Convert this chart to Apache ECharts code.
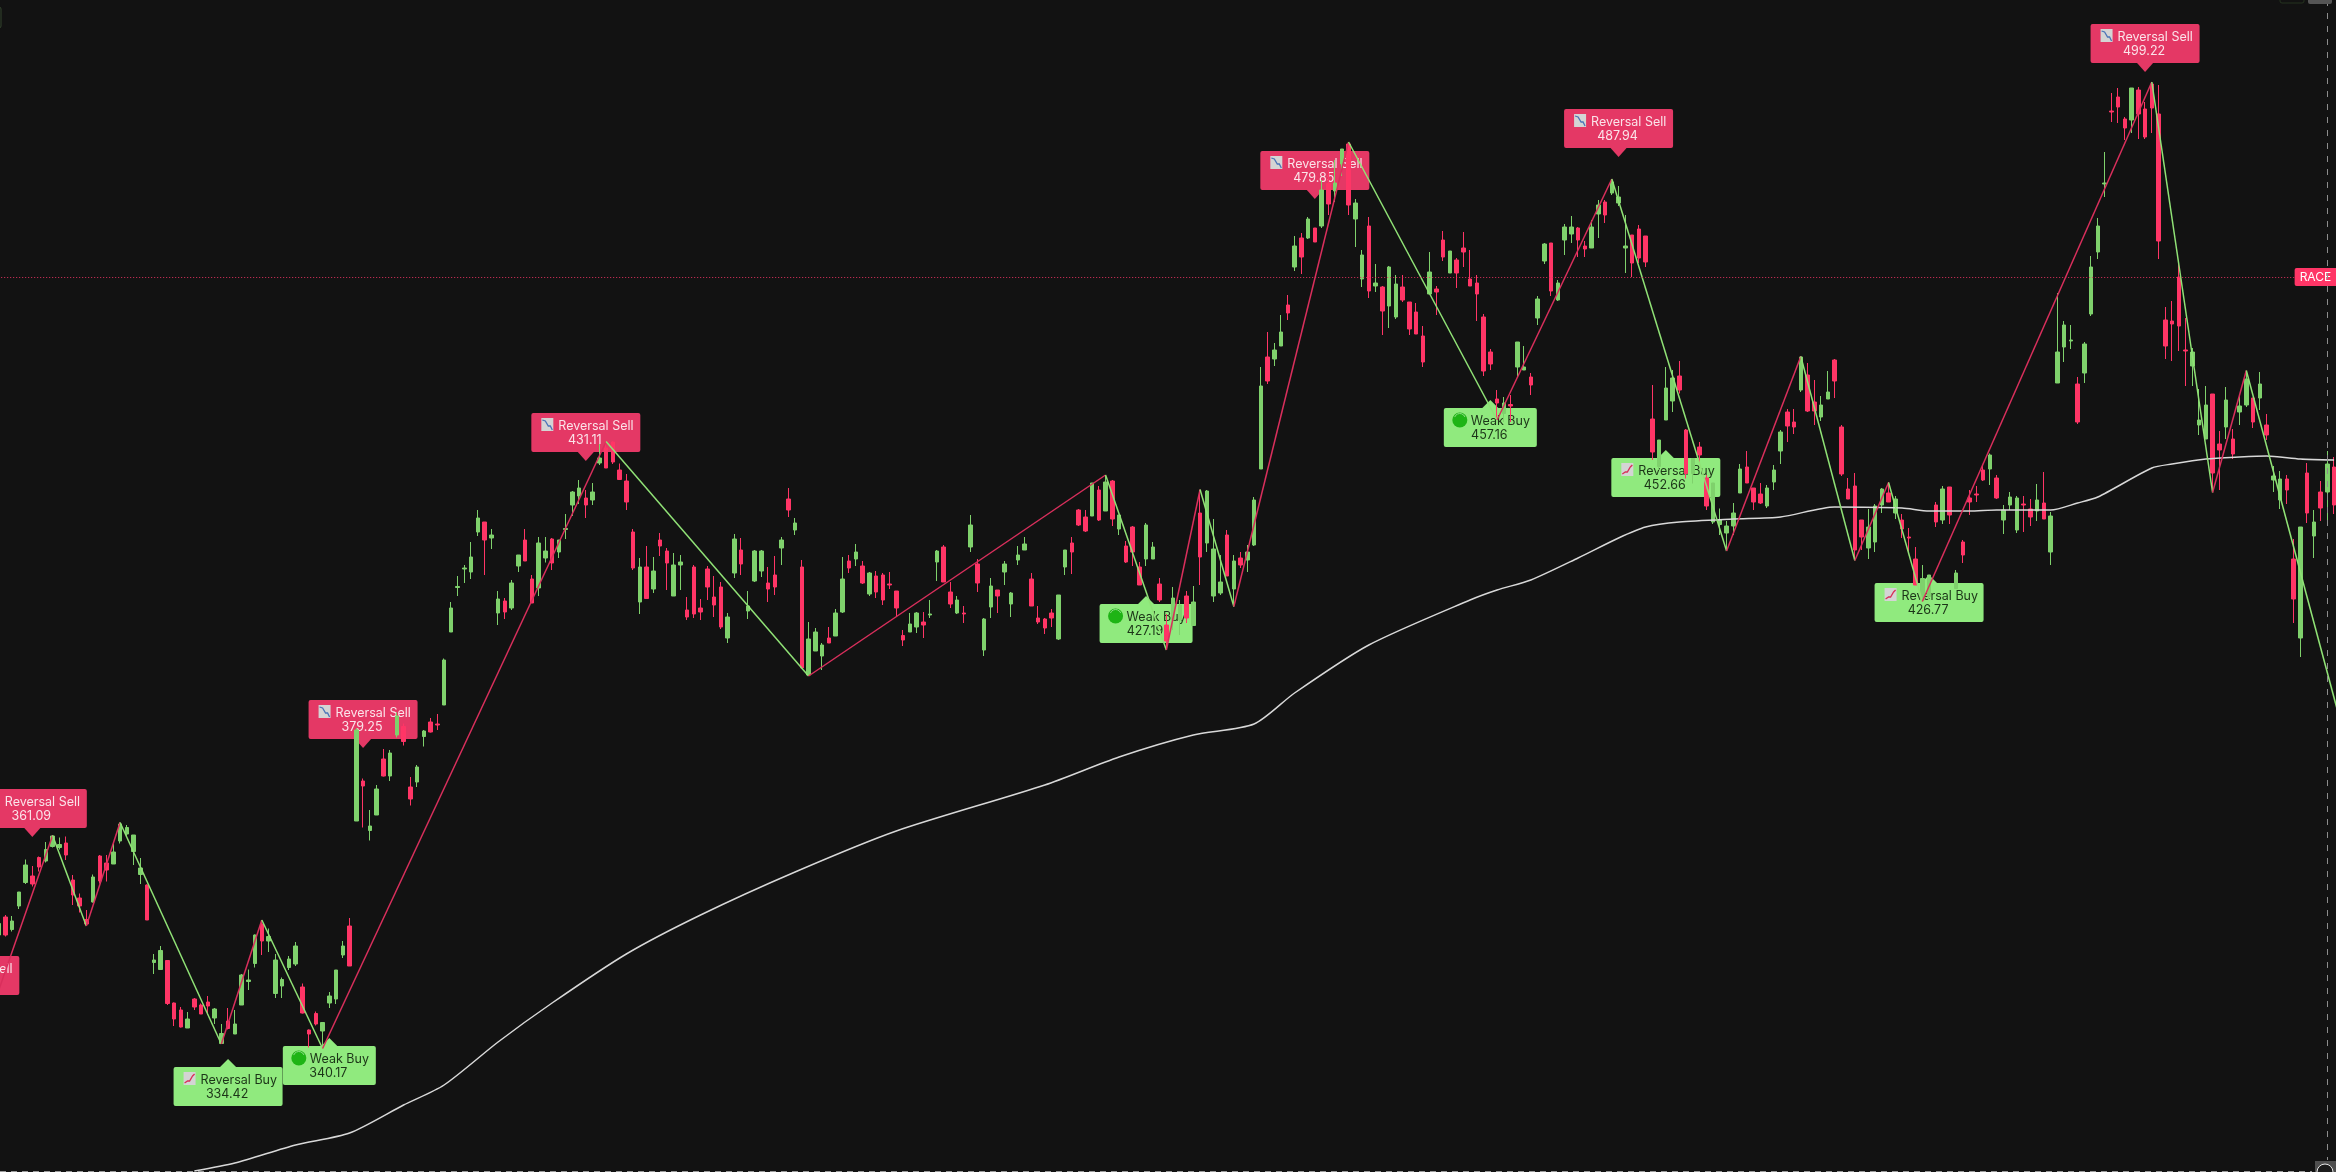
<!DOCTYPE html>
<html>
<head>
<meta charset="utf-8">
<title>RACE</title>
<script src="https://cdn.jsdelivr.net/npm/echarts@6/dist/echarts.min.js"></script>
<style>
  html, body { margin: 0; padding: 0; background: #121212; }
  #chart { width: 2336px; height: 1172px; }
</style>
</head>
<body>
<div id="chart"></div>
<script>
// open, close, low, high
var candles = [
[333,335.3,331.7,335.7],[336.6,333,332.7,337],[334.1,335.8,333.7,336.8],[338.8,341.6,338.2,341.6],[343.5,347,343.2,348.1],
[344.8,343.2,342.7,346.8],[348.5,346.6,345.7,348.7],[347.8,350.1,347.5,351.6],[350.7,352.8,350.5,353],[350.5,351.1,350.1,352.5],
[351.4,349,348,352.7],[344,341,339,345],[340.4,338.8,337.5,341.3],[336.1,335.2,334.8,338],[339.6,344.6,339.5,345.1],
[348.8,343.8,343.3,349],[347.4,346,343.7,349],[347.2,349.6,347.2,351.2],[351.8,355.2,351.3,355.5],[353.2,354.5,352.7,355],
[349.7,353,347,353],[345.1,346.4,343.2,348.4],[343,336,336,343.1],[327.5,328,325.2,329.2],[326.1,329.9,326,330.8],
[327.9,319.3,319,328],[319.4,316.2,314.8,319.5],[318,314.6,314.5,318.6],[314.4,316.2,314.4,317.6],[320.2,318.6,318,320.4],
[319,317.2,317.2,319.3],[319.6,318.8,317,320.8],[316.4,318.2,315.2,318.4],[311.3,313.3,311.2,315.2],[315.8,314.3,314.1,318.4],
[313.2,315.2,313.2,318],[319,325,319,325.2],[323.7,324,322,326.1],[327.3,333,326.5,333.1],[335.2,331.8,329,336],
[331.8,332.7,329.6,334.3],[321.3,328,320.4,329.2],[322.8,324.1,320.4,324.5],[326.5,328.2,326,328.8],[327.2,330.8,326.8,331.6],
[322.6,317.4,317.3,323.3],[314,313.2,310.5,314.1],[317.3,315.2,314.9,317.7],[313.8,315.5,311,315.5],[319.4,320.8,318.4,321.6],
[320.2,326,319.2,326],[329,330.8,328.4,331.8],[334.8,326.8,326.8,336.4],[355.8,374,355.8,374.4],[363.8,362.8,354.5,364.3],
[353.9,354.8,351.9,358],[357,362.2,357,363],[368.2,364.8,364.7,370.2],[364.8,369.4,363.8,370],[373,376.8,372.5,377.5],
[374.7,371.7,370.9,375.3],[362.6,360.2,358.9,364.6],[363.6,366.6,362.6,367],[372.7,373.8,370.7,374],[375.6,373.6,373.5,376.4],
[375.2,375,374,377.2],[379,388,379,388.3],[393.6,398.4,393.6,399.6],[402.5,402.7,400.8,404.8],[406.2,406.4,403.4,407],
[405.6,408.6,404.2,411.6],[413.6,416.4,412.8,418],[415.6,412,405,415.6],[412.4,413,410.2,414.2],[397.4,400.2,395,401.8],
[399.8,397.6,396.2,400.4],[398.4,403.4,398,404],[406.8,409,405.6,409],[412,407.8,407.8,414.2],[404.2,399.4,399.4,405],
[402.4,411.4,400.8,412.6],[408.4,409.8,407.5,412.6],[412.2,407.4,406,412.4],[409.6,412,408.4,412],[414.1,414.3,412.2,417.2],
[419,421.6,416.8,421.8],[420.8,422.4,419.2,424],[420.4,419,416.4,422],[420,421.6,419,423.4],[427.4,428.4,427,431.2],
[430.4,426.4,426.4,431.7],[431.6,427.6,427.2,431.7],[426,424.1,424,427.3],[423.8,419.6,418,425.2],[413.6,406.4,406,414.2],
[399.6,406.6,397.2,408.4],[406.6,400.3,400.2,410.8],[402.2,405.8,401.4,408.6],[412,410.8,408.8,413.4],[409.8,407.4,402,410.4],
[400.8,407,400.8,409.4],[407,407.6,402,409],[398,396.6,396,400.6],[406.6,397.2,396.4,407],[398.4,397.6,396,400.2],
[406.2,402.6,400,406.8],[400.6,399,396.6,404.8],[402.6,394.6,394.2,403.6],[392.4,396.6,391.4,397.4],[405.4,412.2,404.4,413.2],
[410,407.2,405,412.4],[397.8,398.8,396.2,401.8],[403.8,409.8,403.6,410],[405.8,409.8,404.6,410],[403.4,402.2,399.6,406.6],
[405,402.6,401,408.8],[410.4,412,407,412.6],[420.2,418,416.6,422.4],[414,415.4,413,416.4],[406.6,386.4,386.4,408],
[385,392.2,384.8,395.6],[389.8,393.6,389.8,394.4],[388.8,391,386,391.4],[392.4,391.4,391.4,394.6],[392.8,397.4,392.8,398.2],
[397.6,404.2,397.4,408.6],[407.8,406.4,405.4,409],[408.2,409.6,406.8,411.2],[406.8,403.4,403.2,407.8],[401.2,405.4,400.8,405.6],
[404.8,401.6,400.4,405.8],[405,400,399,405.4],[403.2,403,402.2,405.6],[401.8,398.4,396.6,401.8],[392.9,392,390.8,394],
[393.6,395.2,393.6,397.4],[394.6,397.4,393.4,397.6],[395.6,395,392.4,397.6],[397,397.2,396.4,400],[407.6,409.8,403.8,410],
[410.6,403.6,403.6,411],[401.6,399.2,398.4,403.6],[397.4,400,397.2,400.8],[397.4,397.2,395.4,398.8],[410.6,415,409.6,417],
[407.2,403.4,401.6,408.2],[390,396.2,388.8,396.4],[398.6,402.8,396.4,404.4],[402,400.8,397.4,402],[405.6,407.2,403,407.8],
[399.2,401.4,396.6,401.6],[408,409,407,410.8],[410,411.2,410,412.6],[404.2,398.8,398.8,405.4],[396.4,395.6,395.2,398.8],
[396.2,394.4,393.2,396.4],[397.4,396.4,394.6,398.2],[392.2,401,392,401],[406.6,410,405,410],[411.4,409.6,405.2,412.6],
[418,415,414.8,418.2],[416.6,413.8,413.6,418],[416.8,423.4,416.8,423.4],[422,416,415.8,422.8],[417.8,423.6,417.8,425],
[423.8,416.2,414.8,424],[414.2,417,413,417],[410.8,407.6,407.4,411.8],[414.6,409.6,406.8,414.8],[406.6,403,403,407.6],
[408.2,415,406.8,415.4],[408.2,410.6,408.2,411.6],[403.2,400,399.6,404.4],[395,391.8,390,397.2],[396,400.4,394,402.6],
[396,399,393,400],[400.8,396.4,395.4,401.8],[394.9,399.6,394.9,402.8],[417.4,408.6,403,422],[411.4,421.8,409.6,422],
[400.8,410.2,399.6,416.2],[401.4,403.6,401,409],[413,404.8,404.8,414],[402.2,407.8,398.7,409],[408.4,407,406.4,409.6],
[408,409.6,405.6,411],[411,420,410.8,420.6],[426.2,442.8,426.2,446.6],[448.6,443.8,443.2,453.6],[448.2,450,446.8,451.4],
[450.8,453.6,450.8,457],[459,457.4,456,461],[466.6,470.8,465.8,472.8],[472.4,468.6,465.2,473.4],[472.4,476.2,472.2,476.6],
[474.4,471.6,471.6,474.4],[474.8,482,474.4,484],[483.3,479.2,477,486],[481.8,483.4,479.6,488],[487.2,490.2,484.8,490.2],
[491.2,479,477,491.6],[476.2,479.4,470.6,480.2],[464.2,469,462.6,470],[474.8,461.8,460.4,476.6],[462.8,463.4,461.6,467.2],
[462.6,457.8,453,462.8],[458.8,466.6,454.4,466.8],[456.6,463.2,456.2,465],[462.6,460,459.6,465],[459.6,454.2,453,459.6],
[457.6,453.2,453.2,459.4],[452.8,447.6,446.6,454.8],[461.2,465.6,461.2,469.6],[462.2,461.6,457,462.8],[472,468.6,467.8,473.8],
[465.4,469.8,465.4,469.8],[468,465.4,462.4,468.4],[470.4,469.6,466.6,473.6],[464.2,462.8,462.8,470],[463.4,461.2,455.8,465],
[456.6,445.8,444.8,457.2],[449.6,447.2,446,450.2],[440.2,439.4,436,442],[437.3,439.4,435.6,440.6],[439.1,438.8,435.6,441],
[446.6,451.6,444.4,451.6],[446,446.6,446,450.8],[444.6,443,441,445.4],[456.4,460.2,455,460.8],[467.8,471.2,467.2,471.4],
[471.4,461.8,460.8,471.4],[460,463.4,459.8,464],[472,474.6,469,475.2],[473.2,474.6,471.4,476.8],[474.4,472,468.6,474.6],
[470.8,470.2,468.6,471.8],[470.4,474.6,470.4,476],[477.2,479,472.4,480],[479.6,477,475.4,480],[481.4,483.6,481,484.2],
[479.4,480.6,478.8,482.8],[470.4,470.8,465.4,477],[473,467.4,464.6,473],[474.2,468.4,467.4,475],[472.8,467.6,466.6,472.8],
[436.2,429.6,428,443],[426.7,432,426,432],[436,442.4,436,446.6],[439.8,444.4,437.6,446],[444.8,442,441.3,447.8],
[434,425.3,424.3,434.2],[425.3,428.3,423.3,428.3],[430.6,429,427.3,431.6],[424.4,418.8,418,425],[415.6,423.4,415.2,423.4],
[415.1,416,413,418.3],[413.4,414.8,409.8,415.8],[414.8,417.4,413,419.4],[421.4,426.2,421.4,427.2],[426.6,423.4,423.4,429.8],
[422.4,419.6,418,422.4],[421.2,419.4,419.2,423.4],[418.8,422.4,418.4,423],[423.6,426,422,427],[429.8,433.6,427.2,434],
[437.6,434.8,431.6,438.2],[435.6,434.6,433.2,438.2],[442,448.6,441.6,448.8],[445,437.8,437.6,447.4],[439.6,437.8,435,444],
[436.6,439,435.8,440.8],[440.2,441.6,440.2,445.8],[448,443.8,440.4,448.2],[434.6,425.2,424.8,435],[422.2,420.2,420.2,424.4],
[422.8,410,408,425.4],[416,412.6,410,416],[410.4,414.6,408.2,418.2],[411.6,418.8,409.6,419.2],[419,422.2,417.4,422.4],
[421.4,419.6,419.6,423.6],[417.4,420.2,416.2,420.8],[416,414.2,412.4,417.2],[412.6,412.4,409.3,414.4],[408.2,403,403,410.6],
[400,404.3,399.7,407],[400.7,405,400,405],[419,415.6,414.6,419.6],[416,422.2,415.2,422.8],[422.6,417,415.2,422.6],
[402.3,405.4,402.3,406],[411.6,409,407.4,412],[420.4,419.6,417,422],[421.2,421,419.6,422.8],[426,424,423.8,427],
[426.2,429,423,429.3],[424.4,420.4,420.2,425],[416,418,413.2,419],[419,420.6,418,421.6],[414,420.4,413.4,420.8],
[419.2,419,413.6,420.8],[418.2,416.6,414.8,420.2],[417.8,420,415.8,423.2],[419.4,416.2,416.2,425.6],[409.6,416.8,407,417.6],
[443.4,449.6,443.4,461.4],[450.6,455,447.6,455.8],[451.8,452,450.2,455],[443.2,435.6,435.2,444.6],[445.4,451.2,443.4,451.6],
[457.2,466.6,456.8,468.8],[469.6,474.8,468.2,476.4],[483.2,483.4,480.6,489.6],[497.8,497.6,495.6,501.4],[500.6,498.6,495.4,502.4],
[496.2,494.4,492,496.6],[496,502.4,493.4,502.4],[502,497.2,492.2,502.6],[498.2,492.6,492.2,499.6],[503.2,498.4,493.4,503.6],
[497.2,471.8,468.2,503],[456,450.8,448.2,458.6],[455.8,455.2,447.8,459.8],[464.6,454.8,449.8,467.6],[450,449.8,442.8,456.4],
[446.8,449.6,442.8,450.4],[435,436,433,442.2],[432.2,439,432.2,442.8],[441.2,425.4,421.7,441.2],[431.2,430,422,433.8],
[434.6,440,432.2,442.6],[432.2,429.2,428.2,434.2],[437.6,438.8,435,441],[439,444.2,438.6,445.8],[440.4,435.6,434.4,440.4],
[440.4,443.2,438,445.6],[435,433,432,437.2],[424,424.8,421.6,426.8],[420,424.2,418.2,425.8],[424.2,422,419.2,425],
[408.2,400.2,395.4,412.2],[392.4,414.6,388.6,414.6],[425.4,417.4,415.4,427.4],[412.8,415.6,408.4,418],[421.6,418.4,415.8,423.8],
[421.6,427.2,416,429.8],[426.6,419,417.2,428.6]
];

// zigzag turning points, bar number then price
var pivotBars = [-4, 8, 13, 18, 33, 39, 48, 90, 120, 164, 173, 178, 183, 200, 222, 239, 256, 267, 275, 280, 285, 319, 328, 333, 347];
var pivotPrices = [306.4, 352.9, 334.8, 355.5, 311.2, 336, 310.3, 431.7, 384.8, 425, 390, 422.1, 398.7, 491.6, 436, 484.2, 409.8, 448.7, 407.9, 423.5, 399.7, 503.6, 421.5, 445.9, 375.4];

// long moving average, read every few bars
var maBars = [29, 35, 44, 52, 60, 66, 74, 82, 93, 104, 118, 133, 155, 166, 177, 186, 192, 203, 218, 222, 227, 234, 240, 244, 249, 257, 264, 272, 282, 286, 292, 296, 304, 308, 311, 319, 322, 327, 332, 336, 341, 346];
var maPrices = [285.8, 287.4, 291, 293.4, 299, 303, 311.6, 319.4, 329.2, 337, 345.6, 353.8, 363, 368.6, 373, 375.2, 381.4, 391, 400, 402, 404, 408.4, 412.4, 414.6, 415.6, 416.2, 416.6, 418.6, 418.4, 417.8, 417.8, 418, 418, 419.4, 420.6, 426.4, 427.2, 428.2, 428.6, 428.8, 428.2, 428];

// signal tags
var tagBars = [5, -5, 54, 87, 195, 240, 318, 34, 49, 170, 221, 247, 286];
var tagTips = [352.6, 319.2, 370.4, 427.8, 480.2, 488.6, 505.6, 308.2, 312.4, 400.8, 440, 430, 405];
var tagNames = ['Reversal Sell', 'Reversal Sell', 'Reversal Sell', 'Reversal Sell', 'Reversal Sell', 'Reversal Sell', 'Reversal Sell', 'Reversal Buy', 'Weak Buy', 'Weak Buy', 'Weak Buy', 'Reversal Buy', 'Reversal Buy'];
var tagPrices = ['361.09', '', '379.25', '431.11', '479.85', '487.94', '499.22', '334.42', '340.17', '427.19', '457.16', '452.66', '426.77'];

var tickerPrice = 464.6;
var tickerName = 'RACE';

// bars hidden left of the frame, so the first zigzag leg and tag have a slot
var lead = 8;
var barCount = lead + candles.length + 1;
var slots = [];
for (var s = 0; s < barCount; s++) slots.push(String(s));

var hidden = [];
for (var h = 0; h < lead; h++) hidden.push(['-', '-', '-', '-']);

var UP = '#7fd16c', DOWN = '#ff3566';
var TAG_UP = '#90ea7e', TAG_DOWN = '#e43865';
var FONT = '12.5px Inter, "Noto Sans", sans-serif';

function drawIcon(name, left, top, children) {
  if (name === 'Weak Buy') {
    children.push({ type: 'circle', shape: { cx: left + 16, cy: top + 12, r: 7.5 }, style: { fill: '#1eb415' } });
    children.push({ type: 'arc', shape: { cx: left + 16, cy: top + 11, r: 5.5, startAngle: 3.5, endAngle: 5.9 }, style: { fill: 'none', stroke: '#8fdc88', lineWidth: 1 } });
    return;
  }
  var selling = name === 'Reversal Sell';
  var ix = left + 10, iy = top + 5;
  children.push({ type: 'rect', shape: { x: ix, y: iy, width: 12, height: 13 }, style: { fill: '#d4d4d4' } });
  children.push({
    type: 'polyline',
    shape: {
      points: selling
        ? [[ix + 1, iy + 2], [ix + 4, iy + 3], [ix + 7, iy + 8], [ix + 9, iy + 8], [ix + 11, iy + 12]]
        : [[ix + 1, iy + 11], [ix + 4, iy + 9], [ix + 6, iy + 9], [ix + 9, iy + 4], [ix + 11, iy + 2]]
    },
    style: { fill: 'none', stroke: selling ? '#4a74b8' : '#d83058', lineWidth: 1.3 }
  });
}

function renderTag(params, api) {
  var i = params.dataIndex;
  var tip = api.coord([tagBars[i] + lead, tagTips[i]]);
  var name = tagNames[i];
  var selling = name === 'Reversal Sell';
  var w = name === 'Weak Buy' ? 93 : 109;
  var left = tip[0] - w / 2;
  var top = selling ? tip[1] - 48 : tip[1] + 8;
  var fill = selling ? TAG_DOWN : TAG_UP;
  var ink = selling ? '#fbe3e9' : '#1c3518';
  var children = [
    { type: 'rect', shape: { x: left, y: top, width: w, height: 39, r: 2 }, style: { fill: fill } },
    {
      type: 'polygon',
      shape: {
        points: selling
          ? [[tip[0] - 8, top + 39], [tip[0] + 8, top + 39], [tip[0], tip[1]]]
          : [[tip[0] - 8, top], [tip[0] + 8, top], [tip[0], tip[1]]]
      },
      style: { fill: fill }
    }
  ];
  drawIcon(name, left, top, children);
  children.push({ type: 'text', style: { x: left + 27, y: top + 13, text: name, fill: ink, font: FONT, textAlign: 'left', textVerticalAlign: 'middle' } });
  children.push({ type: 'text', style: { x: tip[0] - 1, y: top + 27, text: tagPrices[i], fill: ink, font: FONT, textAlign: 'center', textVerticalAlign: 'middle' } });
  return { type: 'group', children: children };
}

var series = [
  {
    type: 'custom',
    z: 1,
    silent: true,
    renderItem: renderTag,
    encode: { x: 0, y: 1 },
    data: tagBars.map(function (b, i) { return [b + lead, tagTips[i]]; })
  },
  {
    type: 'candlestick',
    z: 2,
    silent: true,
    barWidth: 4,
    itemStyle: { color: UP, color0: DOWN, borderColor: UP, borderColor0: DOWN, borderWidth: 1 },
    data: hidden.concat(candles)
  },
  {
    type: 'line',
    z: 3,
    silent: true,
    showSymbol: false,
    smooth: 0.25,
    lineStyle: { color: '#d8d8d8', width: 1.5 },
    data: maBars.map(function (b, i) { return [b + lead, maPrices[i]]; }),
    markLine: {
      silent: true,
      symbol: 'none',
      animation: false,
      lineStyle: { color: '#e0325f', type: [1, 2], width: 1 },
      label: {
        position: 'insideEnd',
        distance: 0,
        formatter: tickerName,
        color: '#ffffff',
        backgroundColor: '#ff3566',
        borderRadius: 2,
        padding: [3, 13, 3, 5],
        fontFamily: 'Inter',
        fontSize: 12
      },
      data: [{ yAxis: tickerPrice }]
    }
  }
];

// one line per zigzag leg: rising legs pink, falling legs green
for (var p = 1; p < pivotBars.length; p++) {
  var rising = pivotPrices[p] > pivotPrices[p - 1];
  series.push({
    type: 'line',
    z: 3,
    silent: true,
    showSymbol: false,
    lineStyle: { color: rising ? '#d92f5c' : '#90e276', width: 1.5 },
    data: [[pivotBars[p - 1] + lead, pivotPrices[p - 1]], [pivotBars[p] + lead, pivotPrices[p]]]
  });
}

var myChart = echarts.init(document.getElementById('chart'));

myChart.setOption({
  animation: false,
  backgroundColor: '#121212',
  grid: { left: -58.8, top: 0, width: 6.75 * barCount, height: 1172, containLabel: false, outerBoundsMode: 'none' },
  tooltip: { show: false },
  xAxis: {
    type: 'category',
    data: slots,
    boundaryGap: true,
    axisLine: { show: false },
    axisTick: { show: false },
    axisLabel: { show: false },
    splitLine: { show: false }
  },
  yAxis: {
    type: 'value',
    min: 285.6,
    max: 520,
    axisLine: { show: false },
    axisTick: { show: false },
    axisLabel: { show: false },
    splitLine: { show: false }
  },
  series: series,
  graphic: {
    elements: [
      // frame of the trading screen
      { type: 'line', silent: true, z: 10, shape: { x1: 2327.5, y1: 0, x2: 2327.5, y2: 1160 }, style: { stroke: '#8d8d8d', lineWidth: 1, lineDash: [6, 7] } },
      { type: 'line', silent: true, z: 10, shape: { x1: 0, y1: 1171.5, x2: 2312, y2: 1171.5 }, style: { stroke: '#9a9a9a', lineWidth: 1, lineDash: [6, 5] } },
      { type: 'rect', silent: true, z: 10, shape: { x: 2308, y: -4, width: 24, height: 8, r: 2 }, style: { fill: '#555555' } },
      { type: 'rect', silent: true, z: 10, shape: { x: 2280, y: -5, width: 24, height: 8, r: 2 }, style: { fill: 'none', stroke: '#25331f', lineWidth: 1 } },
      { type: 'rect', silent: true, z: 10, shape: { x: -4, y: 7, width: 5, height: 21, r: 2 }, style: { fill: 'none', stroke: '#33452d', lineWidth: 1 } },
      { type: 'rect', silent: true, z: 10, shape: { x: 2315, y: 1161, width: 21, height: 11 }, style: { fill: '#4f4f4f' } },
      { type: 'circle', silent: true, z: 11, shape: { cx: 2325, cy: 1172, r: 8 }, style: { fill: '#1c1c1c', stroke: '#e8e8e8', lineWidth: 1 } }
    ]
  }
});
</script>
</body>
</html>
